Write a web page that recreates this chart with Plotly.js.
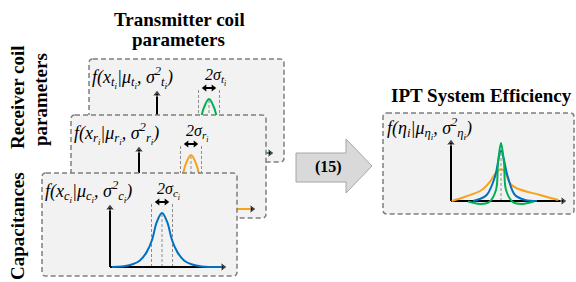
<!DOCTYPE html>
<html><head><meta charset="utf-8">
<script src="https://cdn.plot.ly/plotly-3.0.1.min.js"></script>
<style>body{margin:0;background:#fff}#chart{width:576px;height:282px}</style>
</head><body><div id="chart"></div>
<script>
const W = 576, H = 282;

// Input parameter distribution: offset from mean (in sigma) vs normalised density
const pdfX = [-4.8, -3.8, -2.8, -2.1, -1.45, -0.95, -0.5, 0, 0.5, 0.95, 1.45, 2.1, 2.8, 3.8, 5.7];
const pdfY = [0, 0.01, 0.05, 0.12, 0.28, 0.5, 0.83, 1, 0.83, 0.5, 0.28, 0.12, 0.05, 0.01, 0];

// Resulting IPT efficiency distributions
const effOrangeX = [-4.93, -3.6, -1.93, -1.1, -0.43, 0, 0.4, 0.9, 1.57, 3.9, 5.73];
const effOrangeY = [0, 0.074, 0.19, 0.333, 0.505, 0.547, 0.505, 0.305, 0.22, 0.103, 0.017];
const effBlueX = [-2.8, -2.2, -1.43, -0.6, 0, 0.67, 1.4, 2.4, 3.6];
const effBlueY = [0, 0.03, 0.103, 0.42, 0.867, 0.42, 0.103, 0.02, 0];
const effGreenX = [-3.3, -2.1, -1.2, -0.5, -0.3, 0, 0.3, 0.5, 1.2, 2.1, 3.3];
const effGreenY = [-0.01, -0.05, -0.02, 0.19, 0.655, 1, 0.655, 0.19, -0.02, -0.05, -0.01];

// Labels
const titleTx = 'Transmitter coil';
const titleTx2 = 'parameters';
const labelRx = 'Receiver coil';
const labelRx2 = 'parameters';
const labelC = 'Capacitances';
const titleEff = 'IPT System Efficiency';
const stepLabel = '(15)';
const subs = ['t', 'r', 'c'];

const GREEN = '#00b050', ORANGE = '#f7a21b', BLUE = '#0070c0';
const BORDER = '#7f7f7f', PANEL = '#f2f2f2';

const layout = {
  width: W, height: H, margin: {l: 0, r: 0, t: 0, b: 0},
  paper_bgcolor: '#ffffff', plot_bgcolor: 'rgba(0,0,0,0)',
  showlegend: false, hovermode: false, shapes: [], annotations: []
};
const traces = [];
const px = x => x / W, py = y => 1 - y / H;
const FONT = 'Liberation Serif';
const MATH = {family: FONT, size: 18, color: '#000', style: 'italic'};

function setupPanel(p) {
  const X = v => (v - p.mean) / p.sx, Y = v => (p.base - v) / p.sy;
  const bx0 = p.mean + p.box[0], by0 = p.base + p.box[1], bx1 = p.mean + p.box[2], by1 = p.base + p.box[3];
  const pad = 3;
  const dx0 = Math.max(0, bx0 - pad), dx1 = Math.min(W, bx1 + pad);
  const dy0 = Math.max(0, by0 - pad), dy1 = Math.min(H, by1 + pad);
  const xr = 'x' + p.id, yr = 'y' + p.id;
  layout['xaxis' + p.id] = {domain: [dx0 / W, dx1 / W], range: [X(dx0), X(dx1)], visible: false, fixedrange: true, anchor: yr};
  layout['yaxis' + p.id] = {domain: [1 - dy1 / H, 1 - dy0 / H], range: [Y(dy1), Y(dy0)], visible: false, fixedrange: true, anchor: xr};
  const r = 4;
  const path = `M${X(bx0 + r)},${Y(by0)} L${X(bx1 - r)},${Y(by0)} Q${X(bx1)},${Y(by0)} ${X(bx1)},${Y(by0 + r)} ` +
    `L${X(bx1)},${Y(by1 - r)} Q${X(bx1)},${Y(by1)} ${X(bx1 - r)},${Y(by1)} L${X(bx0 + r)},${Y(by1)} ` +
    `Q${X(bx0)},${Y(by1)} ${X(bx0)},${Y(by1 - r)} L${X(bx0)},${Y(by0 + r)} Q${X(bx0)},${Y(by0)} ${X(bx0 + r)},${Y(by0)} Z`;
  layout.shapes.push({type: 'path', path, xref: xr, yref: yr, layer: 'below',
    fillcolor: PANEL, line: {color: BORDER, width: 1.5, dash: '5px,3px'}});
  // mini axes
  const ax = X(p.mean + p.axisDx), tipX = X(p.mean + p.tipDx - 5), tipY = Y(p.base - p.tipDy + 5);
  traces.push({x: [ax, ax], y: [0, tipY], xaxis: xr, yaxis: yr, mode: 'lines+markers',
    line: {color: '#000', width: 2}, marker: {symbol: ['circle', 'triangle-up'], size: [0, 8], color: '#000'}, hoverinfo: 'skip'});
  traces.push({x: [ax, tipX], y: [0, 0], xaxis: xr, yaxis: yr, mode: 'lines+markers',
    line: {color: '#000', width: 2}, marker: {symbol: ['circle', 'triangle-right'], size: [0, 8], color: '#000'}, hoverinfo: 'skip'});
  return {X, Y, xr, yr, bx0, by0};
}

const inputPanels = [
  {id: '', mean: 209, base: 153, color: GREEN},
  {id: '2', mean: 191, base: 209, color: ORANGE},
  {id: '3', mean: 162, base: 267, color: BLUE}
];
inputPanels.forEach((p, k) => {
  Object.assign(p, {sx: 10.5, sy: 54, box: [-120, -94, 75, 9], axisDx: -52, tipDx: 66, tipDy: 64});
  const g = setupPanel(p);
  const arrowY = 65 / p.sy;
  [-1, 1].forEach(s => layout.shapes.push({type: 'line', xref: g.xr, yref: g.yr, layer: 'below',
    x0: s, x1: s, y0: 0, y1: arrowY, line: {color: '#8c8c8c', width: 1, dash: '3px,2px'}}));
  layout.shapes.push({type: 'line', xref: g.xr, yref: g.yr, layer: 'below',
    x0: 0, x1: 0, y0: 0, y1: 1, line: {color: '#8c8c8c', width: 1, dash: '3px,2px'}});
  const hd = 6.3 / p.sx;
  traces.push({x: [-1 + hd, 1 - hd], y: [arrowY, arrowY], xaxis: g.xr, yaxis: g.yr, mode: 'lines+markers',
    line: {color: '#000', width: 2}, marker: {symbol: ['triangle-left', 'triangle-right'], size: 6, color: '#000'}, hoverinfo: 'skip'});
  traces.push({x: pdfX, y: pdfY, xaxis: g.xr, yaxis: g.yr, mode: 'lines',
    line: {color: p.color, width: 2, shape: 'spline', smoothing: 1}, hoverinfo: 'skip'});
  const s = subs[k];
  const sb = `<sub>${s}<sub>i</sub></sub>`;
  layout.annotations.push({xref: 'paper', yref: 'paper', x: px(g.bx0 + 1), y: py(p.base - 76),
    xanchor: 'left', yanchor: 'middle', showarrow: false,
    text: `f(x${sb}|μ${sb}, σ<sup>2</sup>${sb})`, font: MATH});
  layout.annotations.push({xref: 'paper', yref: 'paper', x: px(p.mean + 6), y: py(p.base - 76),
    xanchor: 'center', yanchor: 'middle', showarrow: false,
    text: `2σ${sb}`, font: Object.assign({}, MATH, {size: 16})});
});

// Efficiency panel
const effPanel = {id: '4', mean: 501, base: 201, sx: 10, sy: 58, box: [-118, -88, 73, 13], axisDx: -50, tipDx: 67, tipDy: 63};
const ge = setupPanel(effPanel);
layout.shapes.push({type: 'line', xref: ge.xr, yref: ge.yr, layer: 'below',
  x0: 0, x1: 0, y0: 0, y1: 0.88, line: {color: '#8c8c8c', width: 1, dash: '3px,2px'}});
[[effOrangeX, effOrangeY, ORANGE], [effBlueX, effBlueY, BLUE], [effGreenX, effGreenY, GREEN]].forEach(([xs, ys, c]) => {
  traces.push({x: xs, y: ys, xaxis: ge.xr, yaxis: ge.yr, mode: 'lines',
    line: {color: c, width: 2, shape: 'spline', smoothing: 1}, hoverinfo: 'skip'});
});
layout.annotations.push({xref: 'paper', yref: 'paper', x: px(385), y: py(128), xanchor: 'left', yanchor: 'middle',
  showarrow: false, text: 'f(η<sub>i</sub>|μ<sub>η<sub>i</sub></sub>, σ<sup>2</sup><sub>η<sub>i</sub></sub>)', font: MATH});

// Block arrow "(15)"
const arrowPts = [[296, 153], [346, 153], [346, 139], [372, 166], [346, 193], [346, 182], [296, 182]];
layout.shapes.push({type: 'path', xref: 'paper', yref: 'paper', layer: 'below',
  path: 'M' + arrowPts.map(([a, b]) => `${px(a)},${py(b)}`).join(' L') + ' Z',
  fillcolor: '#d9d9d9', line: {color: '#a6a6a6', width: 1}});
layout.annotations.push({xref: 'paper', yref: 'paper', x: px(328), y: py(167), showarrow: false,
  text: `<b>${stepLabel}</b>`, font: {family: FONT, size: 16, color: '#000'}});

// Titles
const tfont = {family: FONT, size: 19, color: '#000'};
[[titleTx, 179, 19, 0], [titleTx2, 178, 40, 0], [titleEff, 481, 95, 0],
 [labelRx, 17, 97, -90], [labelRx2, 40, 100, -90], [labelC, 17, 226, -90]].forEach(([t, x, y, a]) => {
  layout.annotations.push({xref: 'paper', yref: 'paper', x: px(x), y: py(y), xanchor: 'center', yanchor: 'middle',
    showarrow: false, textangle: a, text: `<b>${t}</b>`, font: tfont});
});

Plotly.newPlot('chart', traces, layout, {staticPlot: true, displayModeBar: false});
</script></body></html>
